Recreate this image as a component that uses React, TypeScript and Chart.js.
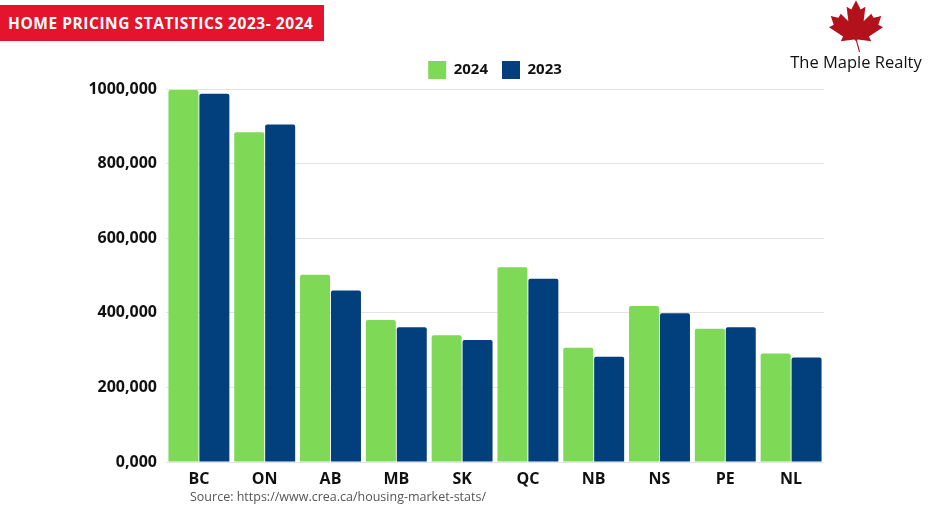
import React, { useEffect, useRef } from "react";
import { Chart, registerables } from "chart.js";

Chart.register(...registerables);

const provinces = ["BC", "ON", "AB", "MB", "SK", "QC", "NB", "NS", "PE", "NL"];
const prices2024 = [997000, 884000, 502000, 381000, 340000, 522000, 306000, 418000, 357000, 291000];
const prices2023 = [987000, 905000, 460000, 361000, 327000, 491000, 282000, 399000, 361000, 280000];
const seriesLabels = ["2024", "2023"];
const yTickValues = [0, 200000, 400000, 600000, 800000, 1000000];
const yTickLabels = ["0,000", "200,000", "400,000", "600,000", "800,000", "1000,000"];

const titleText = "HOME PRICING STATISTICS 2023- 2024";
const brandText = "The Maple Realty";
const sourceText = "Source: https://www.crea.ca/housing-market-stats/";

const GREEN = "#7ED957";
const NAVY = "#023F7D";
const FONT = "'Open Sans', 'DejaVu Sans', sans-serif";

export default function App() {
  const canvasRef = useRef<HTMLCanvasElement | null>(null);

  useEffect(() => {
    document.body.style.margin = "0";
    const canvas = canvasRef.current;
    if (!canvas) return;
    const chart = new Chart(canvas, {
      type: "bar",
      data: {
        labels: provinces,
        datasets: [
          {
            label: seriesLabels[0],
            data: prices2024,
            backgroundColor: GREEN,
            borderRadius: 2,
            borderSkipped: "bottom",
            categoryPercentage: 0.94,
            barPercentage: 0.97,
          },
          {
            label: seriesLabels[1],
            data: prices2023,
            backgroundColor: NAVY,
            borderRadius: 2,
            borderSkipped: "bottom",
            categoryPercentage: 0.94,
            barPercentage: 0.97,
          },
        ],
      },
      options: {
        responsive: false,
        animation: false,
        devicePixelRatio: 1,
        layout: { padding: { top: 47, right: 116, bottom: 0, left: 0 } },
        plugins: {
          legend: {
            display: true,
            position: "top",
            fullSize: false,
            labels: {
              boxWidth: 18,
              boxHeight: 18,
              padding: 14,
              color: "#111",
              font: { family: FONT, size: 15, weight: "bold" },
            },
          },
          tooltip: { enabled: false },
        },
        scales: {
          x: {
            grid: { display: false },
            border: { display: false },
            ticks: {
              color: "#111",
              padding: 0,
              font: { family: FONT, size: 16, weight: "bold" },
            },
            afterFit: (scale: any) => {
              scale.height = 67;
            },
          },
          y: {
            min: 0,
            max: 1000000,
            grid: { color: "#e3e3e3", lineWidth: 1, drawTicks: false },
            border: { display: false },
            afterBuildTicks: (scale: any) => {
              scale.ticks = yTickValues.map((v) => ({ value: v }));
            },
            ticks: {
              color: "#111",
              padding: 9,
              font: { family: FONT, size: 16, weight: "bold" },
              callback: (_v: any, i: number) => yTickLabels[i],
            },
            afterFit: (scale: any) => {
              scale.width = 166;
            },
          },
        },
      },
    });
    return () => chart.destroy();
  }, []);

  return (
    <div style={{ position: "relative", width: 940, height: 529, background: "#fff", overflow: "hidden" }}>
      <canvas ref={canvasRef} width={940} height={529} style={{ position: "absolute", left: 0, top: 0, width: 940, height: 529 }} />
      <div
        style={{
          position: "absolute",
          left: 0,
          top: 5,
          width: 324,
          height: 36,
          background: "#E3142B",
          color: "#fff",
          fontFamily: FONT,
          fontWeight: 700,
          fontSize: 15.5,
          lineHeight: "36px",
          paddingLeft: 8,
          boxSizing: "border-box",
          whiteSpace: "nowrap",
          letterSpacing: 0.55,
        }}
      >
        {titleText}
      </div>
      <svg
        style={{ position: "absolute", left: 826, top: -1 }}
        width={60}
        height={54}
        viewBox="0 0 100 92"
      >
        <path
          d="M50,2 L58,18 L66,13 L63,38 L76,25 L80,32 L93,29 L88,44 L96,48 L72,64 L76,72 L53,69 L51,71 L49,71 L47,69 L24,72 L28,64 L4,48 L12,44 L7,29 L20,32 L24,25 L37,38 L34,13 L42,18 Z"
          fill="#B3121C"
        />
        <path d="M50,68 L56,90" stroke="#B3121C" strokeWidth={2} fill="none" />
      </svg>
      <div
        style={{
          position: "absolute",
          left: 786,
          top: 50,
          width: 140,
          textAlign: "center",
          fontFamily: FONT,
          fontWeight: 500,
          fontSize: 16.5,
          color: "#111",
          whiteSpace: "nowrap",
          lineHeight: "24px",
        }}
      >
        {brandText}
      </div>
      <div
        style={{
          position: "absolute",
          left: 190,
          top: 488,
          fontFamily: FONT,
          fontSize: 12.5,
          color: "#555",
          whiteSpace: "nowrap",
          lineHeight: "18px",
        }}
      >
        {sourceText}
      </div>
    </div>
  );
}
